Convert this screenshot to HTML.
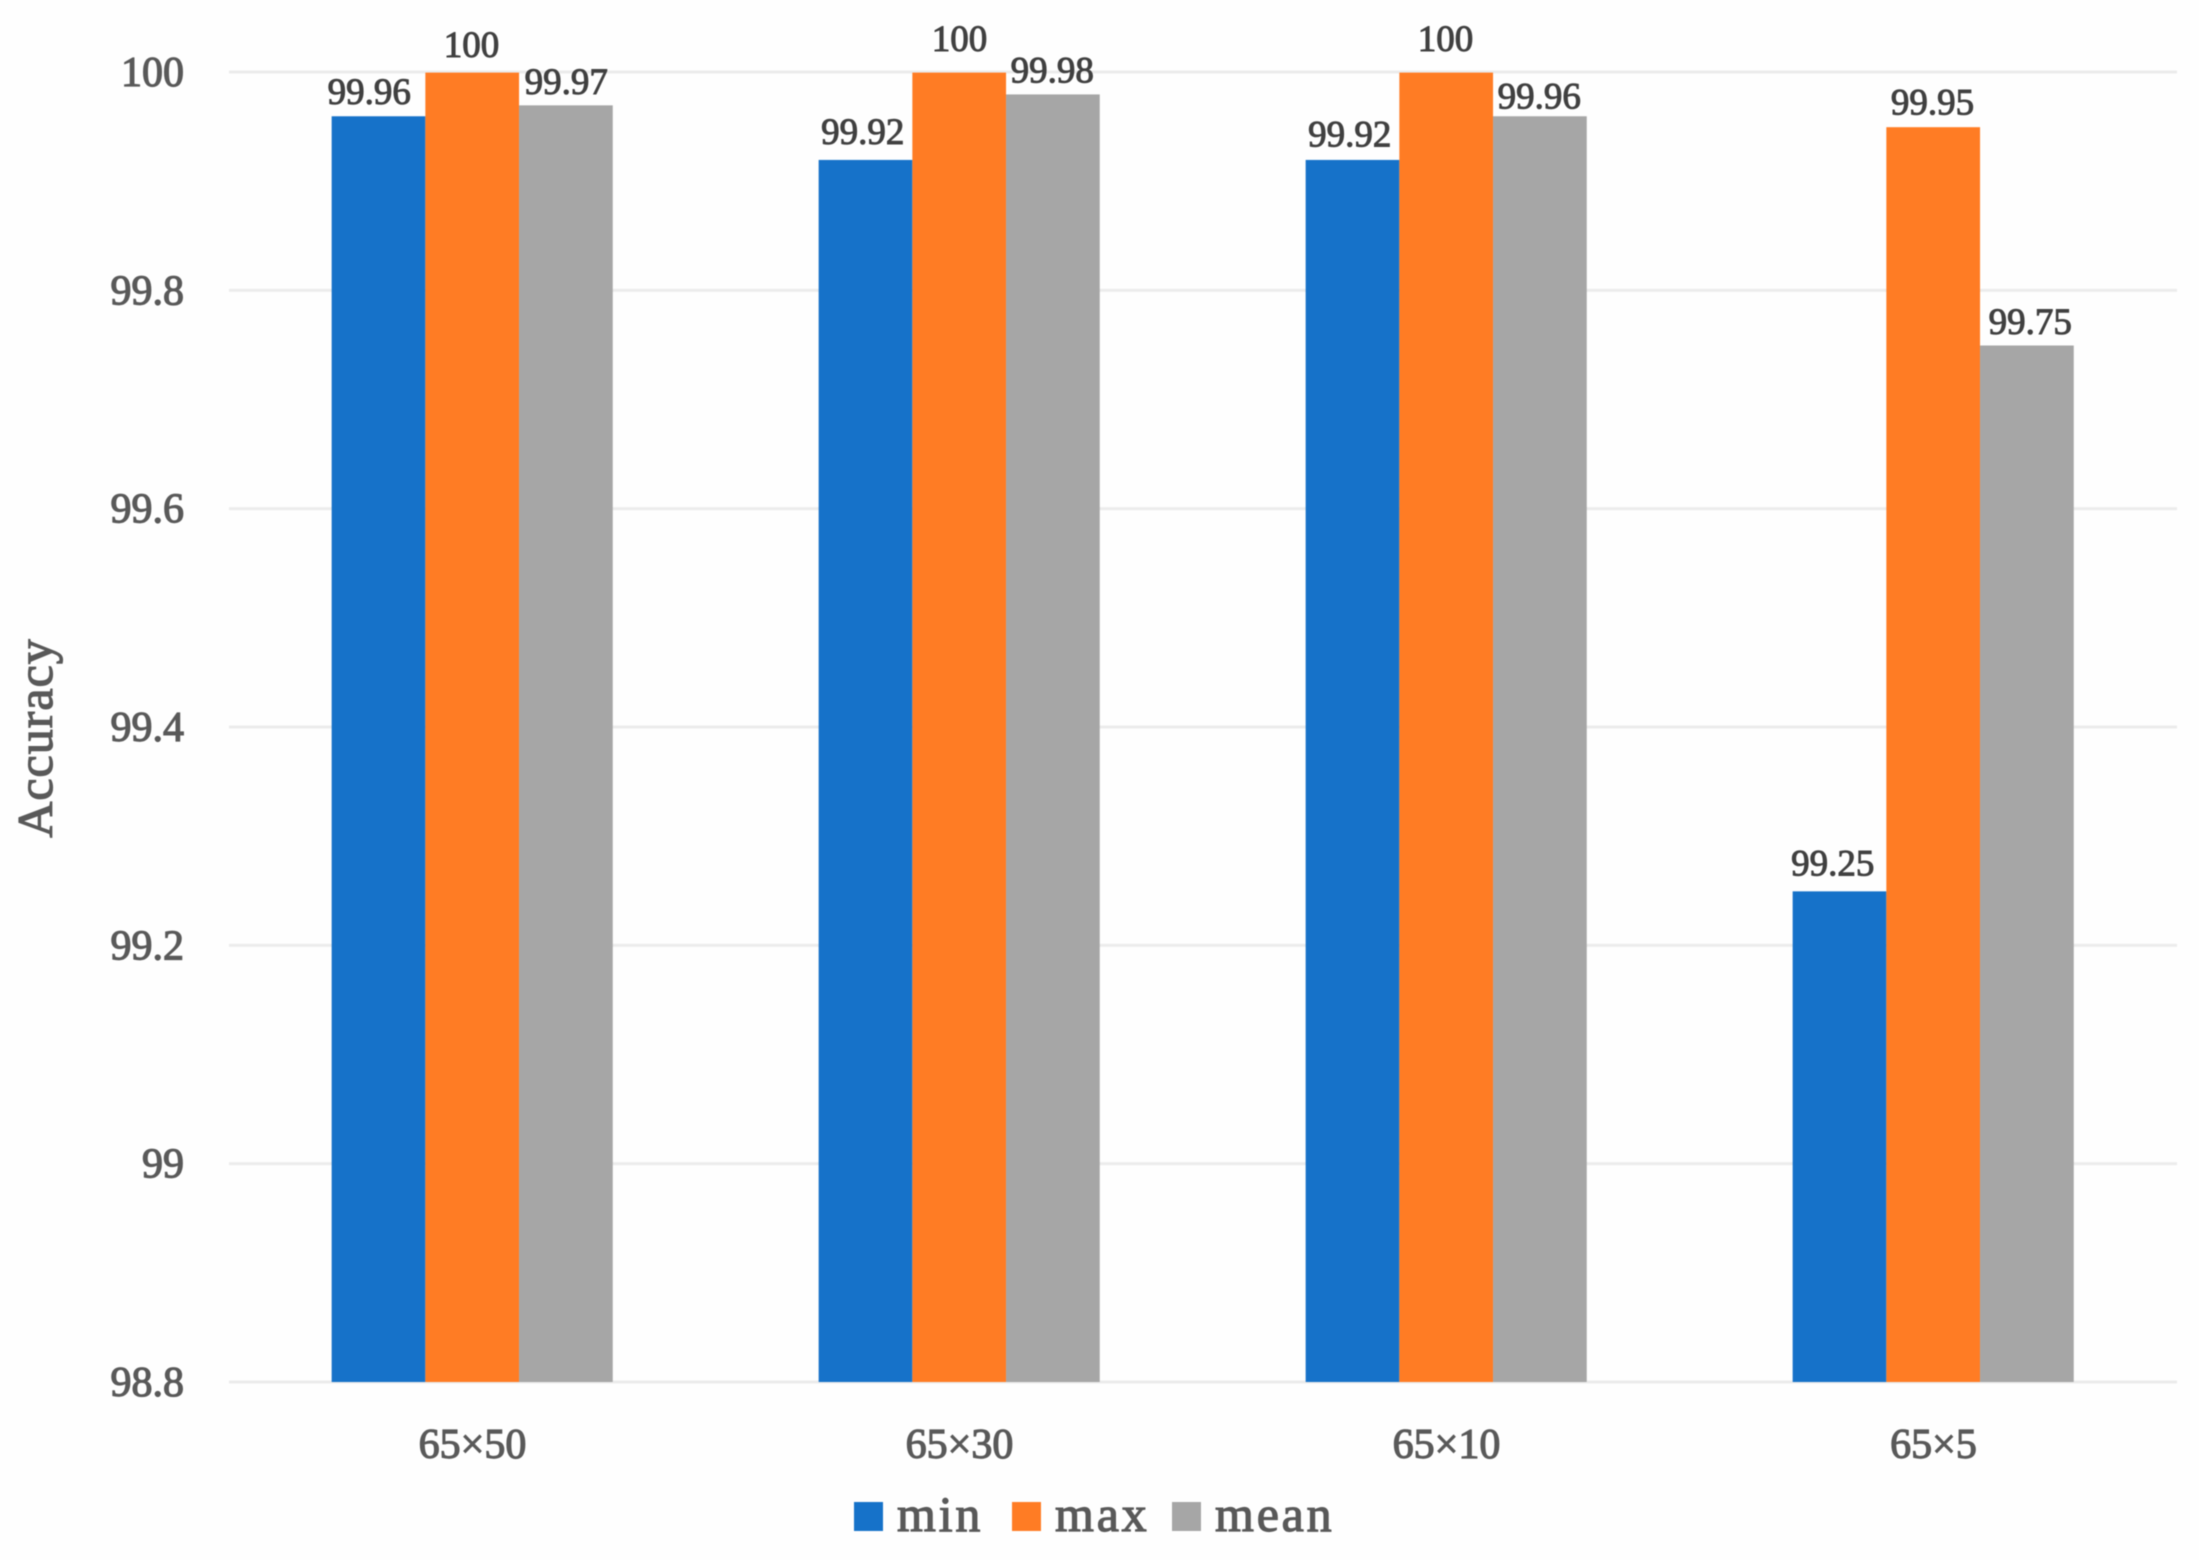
<!DOCTYPE html>
<html lang="en">
<head>
<meta charset="utf-8">
<title>Accuracy chart</title>
<style>
  html, body { margin: 0; padding: 0; background: #fefefe; }
  #chart { display: block; width: 2199px; height: 1560px; filter: blur(0.6px); }
  text { font-family: "Liberation Serif", serif; }
  .tick { font-size: 42px; fill: #595959; stroke: #595959; stroke-width: 1.2px; }
  .value { font-size: 37px; fill: #404040; stroke: #404040; stroke-width: 1px; }
  .legend { font-size: 50px; fill: #595959; stroke: #595959; stroke-width: 1.2px; letter-spacing: 2.8px; }
  .title { font-size: 50px; fill: #595959; stroke: #595959; stroke-width: 1.2px; letter-spacing: 1px; }
</style>
</head>
<body>
<svg id="chart" xmlns="http://www.w3.org/2000/svg" width="2199" height="1560" viewBox="0 0 2199 1560">
  <rect x="0" y="0" width="2199" height="1560" fill="#fefefe"></rect>
  <text class="title" transform="translate(52 738) rotate(-90)" text-anchor="middle">Accuracy</text>
</svg>
<script>
const categories = ['65×50', '65×30', '65×10', '65×5'];
const minValues = [99.96, 99.92, 99.92, 99.25];
const maxValues = [100, 100, 100, 99.95];
const meanValues = [99.97, 99.98, 99.96, 99.75];
const minLabels = ['99.96', '99.92', '99.92', '99.25'];
const maxLabels = ['100', '100', '100', '99.95'];
const meanLabels = ['99.97', '99.98', '99.96', '99.75'];
const yTicks = [98.8, 99, 99.2, 99.4, 99.6, 99.8, 100];
const yTickLabels = ['98.8', '99', '99.2', '99.4', '99.6', '99.8', '100'];
const seriesNames = ['min', 'max', 'mean'];

const NS = 'http://www.w3.org/2000/svg';
const svg = document.getElementById('chart');
const plot = { left: 229, right: 2177, top: 72, bottom: 1382 };
const yMin = 98.8;
const yMax = 100;
const barWidth = 93.7;
const colors = ['#1672c9', '#ff7c24', '#a6a6a6'];
const seriesValues = [minValues, maxValues, meanValues];
const seriesLabels = [minLabels, maxLabels, meanLabels];
// Manual label placement in the original figure, relative to each bar
const labelShiftX = [[-9.5, -1, 0], [-3, 0, -1], [-3, -1, -1], [-7, -1, 3]];
const labelLift = [[11.5, 15, 11], [15.5, 21, 11.3], [12.7, 21, 7], [15.5, 12, 11]];

function y(v) {
  return plot.bottom - (v - yMin) / (yMax - yMin) * (plot.bottom - plot.top);
}
function bandCenter(i) {
  const band = (plot.right - plot.left) / categories.length;
  return plot.left + band * (i + 0.5);
}
function make(tag, attrs, content) {
  const el = document.createElementNS(NS, tag);
  for (const k in attrs) el.setAttribute(k, attrs[k]);
  if (content !== undefined) el.textContent = content;
  svg.appendChild(el);
  return el;
}

yTicks.forEach(function (t, i) {
  const line = make('line', { x1: plot.left, x2: plot.right, y1: y(t), y2: y(t), stroke: '#ececec', 'stroke-width': 3 });
  
  
  const label = make('text', { class: 'tick', x: 184, y: y(t) + 14, 'text-anchor': 'end' }, yTickLabels[i]);
  
  
});

categories.forEach(function (c, i) {
  const cx = bandCenter(i);
  seriesValues.forEach(function (vals, s) {
    const x0 = cx - barWidth * 1.5 + barWidth * s - 0.3;
    const top = y(vals[i]) + 0.6;
    const bar = make('rect', { x: x0, y: top, width: barWidth, height: plot.bottom - top, fill: colors[s] });
    
    
  });
  seriesValues.forEach(function (vals, s) {
    const x0 = cx - barWidth * 1.5 + barWidth * s;
    const top = y(vals[i]);
    const value = make('text', {
      class: 'value',
      x: x0 + barWidth / 2 + labelShiftX[i][s],
      y: top - labelLift[i][s],
      'text-anchor': 'middle'
    }, seriesLabels[s][i]);
    
    
  });
  const catLabel = make('text', { class: 'tick', x: cx, y: 1458, 'text-anchor': 'middle' }, c);
  
  
});

const legendSwatchX = [854, 1012, 1172];
const legendTextX = [897, 1055, 1215];
seriesNames.forEach(function (name, s) {
  const swatch = make('rect', { x: legendSwatchX[s], y: 1502, width: 29, height: 29, fill: colors[s] });
  
  
  const entry = make('text', { class: 'legend', x: legendTextX[s], y: 1531 }, name);
  
  
});
</script>
</body>
</html>
